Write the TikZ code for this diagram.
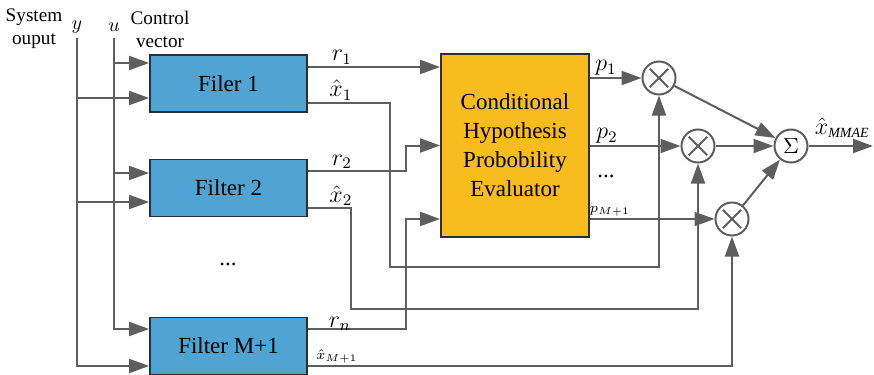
\documentclass[tikz,border=0pt]{standalone}
\usepackage{fontspec}
\setmainfont{Liberation Serif}
\usetikzlibrary{positioning,arrows.meta,calc}
\definecolor{filterblue}{HTML}{4FA4D4}
\definecolor{evalorange}{HTML}{F8BC1F}
\definecolor{wire}{HTML}{5E5E5E}
\definecolor{edge}{HTML}{2E2E2E}

\tikzset{
  filterbox/.style={draw=edge, line width=0.9pt, fill=filterblue, minimum width=78.5pt,
    minimum height=28.5pt, inner sep=0pt, font=\fontsize{11.5}{14}\selectfont},
  evalbox/.style={draw=edge, line width=0.9pt, fill=evalorange, minimum width=74pt,
    minimum height=91.5pt, inner sep=0pt, align=center, font=\fontsize{11.5}{14.5}\selectfont},
  mult/.style={circle, draw=wire, line width=1pt, fill=white, minimum size=16.5pt, inner sep=0pt,
    path picture={\draw[wire, line width=0.9pt, shift={(path picture bounding box.center)}]
      (-4.6pt,-4.6pt) -- (4.6pt,4.6pt) (-4.6pt,4.6pt) -- (4.6pt,-4.6pt);}},
  sumnode/.style={circle, draw=wire, line width=1pt, fill=white, minimum size=16.5pt, inner sep=0pt,
    font=\fontsize{11}{13}\selectfont},
  wireline/.style={wire, line width=1pt},
  arr/.style={wireline, -{Triangle[length=10pt,width=7pt]}},
  lbl/.style={font=\fontsize{11.5}{13}\selectfont, inner sep=1pt},
  smalllbl/.style={font=\fontsize{7.5}{9}\selectfont, inner sep=1pt},
  toplbl/.style={font=\fontsize{9.6}{11.5}\selectfont, align=center, inner sep=0pt},
}

\begin{document}
\begin{tikzpicture}[x=0.5pt,y=-0.5pt]
\useasboundingbox (0,0) rectangle (874,375);

\node[toplbl] (sysout) at (34,29) {System\\ouput};
\node[toplbl] (ctrlvec) at (160,29) {Control\\vector};
\node[toplbl] (ylbl) at (77,27) {$y$};
\node[toplbl] (ulbl) at (114,27) {$u$};

\node[filterbox] (f1) at (228.5,83.5) {Filer 1};
\node[filterbox] (f2) at (228.5,188) {Filter 2};
\node[filterbox] (fm) at (228.5,346) {Filter M+1};
\node[lbl] (fdots) at (228,264) {...};

\node[evalbox] (eval) at (515,145.5) {Conditional\\Hypothesis\\Probobility\\Evaluator};

\node[mult] (m1) at (659,78) {};
\node[mult] (m2) at (698,146) {};
\node[mult] (m3) at (732,219) {};
\node[sumnode] (sum) at (791,146) {$\Sigma$};

\coordinate (ytop) at (77,38);
\coordinate (utop) at (114,38);
\coordinate (u1) at ([yshift=10.25pt]f1.west);
\coordinate (y1) at ([yshift=-7.25pt]f1.west);
\coordinate (u2) at ([yshift=7.5pt]f2.west);
\coordinate (y2) at ([yshift=-7pt]f2.west);
\coordinate (um) at ([yshift=8.5pt]fm.west);
\coordinate (ym) at ([yshift=-10pt]fm.west);

\draw[arr] (utop) |- (um);
\draw[arr] (ytop) |- (ym);
\foreach \i in {1,2} {
  \draw[arr] (utop |- u\i) -- (u\i);
  \draw[arr] (ytop |- y\i) -- (y\i);
}

\coordinate (r1) at ([yshift=8.25pt]f1.east);
\coordinate (x1) at ([yshift=-9.75pt]f1.east);
\coordinate (r2) at ([yshift=8.5pt]f2.east);
\coordinate (x2) at ([yshift=-10pt]f2.east);
\coordinate (rm) at ([yshift=8.5pt]fm.east);
\coordinate (xm) at ([yshift=-10pt]fm.east);
\coordinate (e2) at (eval.west);
\coordinate (e3) at ([yshift=-36.75pt]eval.west);

\draw[arr] (r1) -- (r1 -| eval.west);
\draw[arr] (r2) -| ([xshift=-17pt]e2) -- (e2);
\draw[arr] (rm) -| ([xshift=-17pt]e3) -- (e3);
\draw[arr] (x1) -| (390,267) -| (m1);
\draw[arr] (x2) -| (351,309) -| (m2);
\draw[arr] (xm) -| (m3);

\draw[arr] (m1 -| eval.east) -- (m1);
\draw[arr] (m2 -| eval.east) -- (m2);
\draw[arr] (m3 -| eval.east) -- (m3);
\draw[arr] (m1) -- (sum);
\draw[arr] (m2) -- (sum);
\draw[arr] (m3) -- (sum);
\coordinate (out) at (873,146);
\draw[arr] (sum) -- (out);

\node[lbl, anchor=south] (r1lbl) at ([xshift=17pt]r1) {$r_1$};
\node[lbl, anchor=south] (x1lbl) at ([xshift=16.5pt]x1) {$\hat{x}_1$};
\node[lbl, anchor=south] (r2lbl) at ([xshift=17pt]r2) {$r_2$};
\node[lbl, anchor=south] (x2lbl) at ([xshift=16.5pt]x2) {$\hat{x}_2$};
\node[lbl, anchor=south, yshift=-2pt] (rmlbl) at ([xshift=16pt]rm) {$r_n$};
\node[smalllbl, anchor=south] (xmlbl) at ([xshift=14.5pt]xm) {$\hat{x}_{M+1}$};
\node[lbl, anchor=south] (p1lbl) at ([xshift=8pt]m1 -| eval.east) {$p_1$};
\node[lbl, anchor=south] (p2lbl) at ([xshift=8.5pt]m2 -| eval.east) {$p_2$};
\node[lbl] (pdots) at (606,176) {...};
\node[smalllbl, anchor=south] (pmlbl) at ([xshift=10pt]m3 -| eval.east) {$p_{M+1}$};
\node[lbl, anchor=south west, yshift=3pt] (outlbl) at ([xshift=2pt]sum.east) {$\hat{x}_{\mbox{\fontsize{7}{8}\selectfont\itshape MMAE}}$};
\end{tikzpicture}
\end{document}
